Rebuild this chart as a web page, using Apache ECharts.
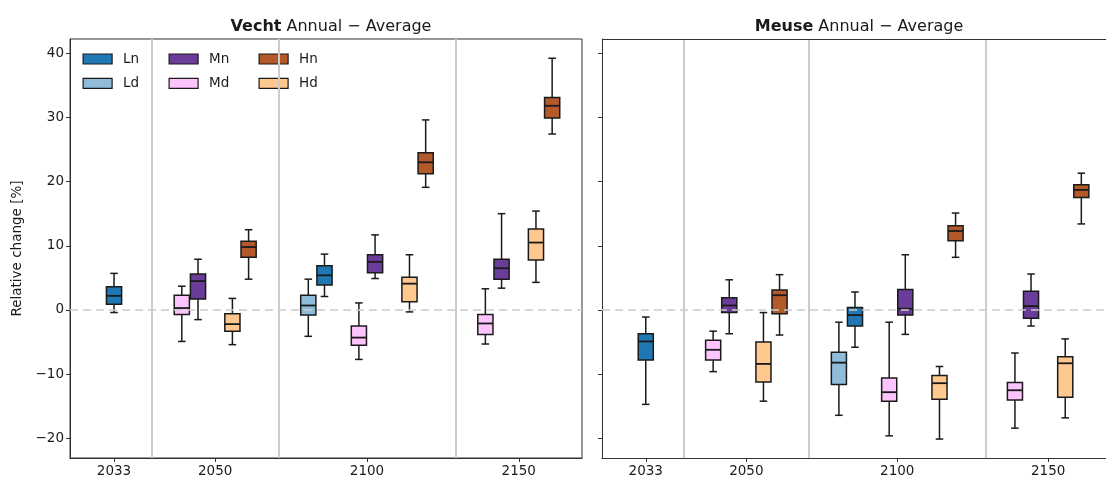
<!DOCTYPE html>
<html>
<head>
<meta charset="utf-8">
<script src="https://cdn.jsdelivr.net/npm/echarts@6/dist/echarts.min.js"></script>
<style>
html, body { margin: 0; padding: 0; background: #fff; }
#chart { width: 1106px; height: 480px; }
</style>
</head>
<body>
<div id="chart"></div>
<script>
var years = ['2033', '2050', '2100', '2150'];
var scenarios = ['Ln', 'Ld', 'Mn', 'Md', 'Hn', 'Hd'];
var yTicks = [-20, -10, 0, 10, 20, 30, 40];

// each entry: [min, q1, median, q3, max] for 2033, 2050, 2100, 2150 (null = no box)
var vechtLn = [[-0.4, 0.9, 2.2, 3.6, 5.7], null, [2.1, 3.9, 5.4, 6.9, 8.7], null];
var vechtLd = [null, null, [-4.1, -0.8, 0.7, 2.3, 4.8], null];
var vechtMn = [null, [-1.5, 1.7, 4.5, 5.6, 7.9], [4.9, 5.8, 7.5, 8.6, 11.7], [3.4, 4.8, 6.5, 7.9, 15.0]];
var vechtMd = [null, [-4.9, -0.7, 0.3, 2.3, 3.7], [-7.7, -5.5, -4.3, -2.5, 1.1], [-5.3, -3.8, -2.1, -0.7, 3.3]];
var vechtHn = [null, [4.8, 8.2, 9.8, 10.7, 12.5], [19.1, 21.2, 23.0, 24.5, 29.6], [27.4, 29.9, 31.8, 33.1, 39.2]];
var vechtHd = [null, [-5.4, -3.3, -2.2, -0.6, 1.8], [-0.3, 1.3, 4.1, 5.1, 8.6], [4.3, 7.8, 10.5, 12.6, 15.4]];

var meuseLn = [[-14.7, -7.8, -4.9, -3.7, -1.1], null, [-5.8, -2.5, -0.8, 0.4, 2.8], null];
var meuseLd = [null, null, [-16.4, -11.6, -8.2, -6.6, -1.9], null];
var meuseMn = [null, [-3.7, -0.4, 0.7, 1.9, 4.7], [-3.8, -0.8, 0.2, 3.2, 8.6], [-2.5, -1.3, 0.6, 2.9, 5.6]];
var meuseMd = [null, [-9.6, -7.8, -6.2, -4.7, -3.3], [-19.6, -14.2, -12.8, -10.6, -1.9], [-18.4, -14.0, -12.5, -11.3, -6.7]];
var meuseHn = [null, [-3.9, -0.6, 2.3, 3.1, 5.5], [8.2, 10.8, 12.3, 13.1, 15.1], [13.4, 17.5, 18.7, 19.5, 21.3]];
var meuseHd = [null, [-14.2, -11.2, -8.4, -5.0, -0.4], [-20.1, -13.9, -11.4, -10.2, -8.8], [-16.8, -13.6, -8.3, -7.3, -4.5]];

var basins = [
  { name: 'Vecht', data: { Ln: vechtLn, Ld: vechtLd, Mn: vechtMn, Md: vechtMd, Hn: vechtHn, Hd: vechtHd } },
  { name: 'Meuse', data: { Ln: meuseLn, Ld: meuseLd, Mn: meuseMn, Md: meuseMd, Hn: meuseHn, Hd: meuseHd } }
];

var colors = { Ln: '#1f78b4', Ld: '#8fbcdb', Mn: '#6a3d9a', Md: '#fcc3fc', Hn: '#b3592a', Hd: '#fec88e' };

// layout on the x axis (not data): tick positions and box offsets
var yearPos = [0, 2, 5, 8];
var groupShift = { L: [-0.16, 0, -1, 0], M: [0, -0.5, 0, -0.5], H: [0, 0.5, 1, 0.5] };
var pairShift = { d: -0.16, n: 0.16 };
var separators = [0.75, 3.25, 6.75];
var boxWidth = 0.3;
var yMin = -23.05, yMax = 42.2;
var ink = '#1a1a1a';
var spine = '#333';
var font = 'DejaVu Sans';

function renderBox(params, api) {
  var x = api.value(0);
  var pMin = api.coord([x, api.value(1)]);
  var pQ1 = api.coord([x, api.value(2)]);
  var pMed = api.coord([x, api.value(3)]);
  var pQ3 = api.coord([x, api.value(4)]);
  var pMax = api.coord([x, api.value(5)]);
  var w = api.size([boxWidth, 0])[0];
  var cx = pMin[0];
  var c = w / 4;
  function ln(x1, y1, x2, y2, lw) {
    return { type: 'line', shape: { x1: x1, y1: y1, x2: x2, y2: y2 }, style: { stroke: ink, lineWidth: lw || 1.5 } };
  }
  return {
    type: 'group',
    children: [
      ln(cx, pMin[1], cx, pQ1[1]),
      ln(cx, pQ3[1], cx, pMax[1]),
      ln(cx - c, pMin[1], cx + c, pMin[1]),
      ln(cx - c, pMax[1], cx + c, pMax[1]),
      { type: 'rect', shape: { x: cx - w / 2, y: pQ3[1], width: w, height: pQ1[1] - pQ3[1] },
        style: { fill: api.visual('color'), stroke: ink, lineWidth: 1.5 } },
      ln(cx - w / 2, pMed[1], cx + w / 2, pMed[1], 1.8)
    ]
  };
}

// right panel runs past the edge of the picture, so no right spine there
var grids = [
  { left: 70, top: 39, width: 512, height: 419, show: true, borderColor: spine, borderWidth: 1, outerBoundsMode: 'none' },
  { left: 602, top: 39, width: 509, height: 419, show: false, outerBoundsMode: 'none' }
];

function minus(v) { return String(v).replace('-', '\u2212'); }

var xAxes = [], yAxes = [], series = [], titles = [];
basins.forEach(function (b, k) {
  xAxes.push({
    type: 'value', gridIndex: k, min: -0.87, max: 9.25,
    splitLine: { show: false },
    axisLine: { onZero: false, lineStyle: { color: spine } },
    axisTick: { customValues: yearPos, length: 4, lineStyle: { color: spine } },
    axisLabel: {
      customValues: yearPos, color: ink, fontFamily: font, fontSize: 13.5, margin: 6,
      formatter: function (v) { return years[yearPos.indexOf(v)]; }
    }
  });
  yAxes.push({
    type: 'value', gridIndex: k, min: yMin, max: yMax,
    splitLine: { show: false },
    axisLine: { show: true, onZero: false, lineStyle: { color: spine } },
    axisTick: { show: true, customValues: yTicks, length: 4, lineStyle: { color: spine } },
    axisLabel: { show: k === 0, customValues: yTicks, color: ink, fontFamily: font, fontSize: 13.5, margin: 6, formatter: minus },
    name: k === 0 ? 'Relative change [%]' : '',
    nameLocation: 'middle', nameGap: 46,
    nameTextStyle: { color: ink, fontFamily: font, fontSize: 13.5 }
  });
  titles.push({
    text: '{b|' + b.name + '} Annual \u2212 Average',
    left: grids[k].left + (k === 0 ? 256 : 252), top: 14, textAlign: 'center',
    textStyle: {
      fontFamily: font, fontSize: 16, fontWeight: 'normal', color: ink,
      rich: { b: { fontFamily: font, fontSize: 16, fontWeight: 'bold', color: ink } }
    }
  });
  // separators and zero line
  var lines = separators.map(function (s) {
    return { xAxis: s, lineStyle: { color: '#cccccc', width: 2, type: 'solid' } };
  });
  lines.push({ yAxis: 0, lineStyle: { color: '#cccccc', width: 1.6, type: [8, 5] } });
  if (k === 1) lines.push({ yAxis: yMax, lineStyle: { color: spine, width: 1, type: 'solid' } });
  series.push({
    type: 'line', xAxisIndex: k, yAxisIndex: k, data: [], z: 1, silent: true,
    markLine: { symbol: 'none', silent: true, label: { show: false }, animation: false, data: lines }
  });
  scenarios.forEach(function (s) {
    var rows = [];
    b.data[s].forEach(function (v, i) {
      if (!v) return;
      var x = yearPos[i] + groupShift[s[0]][i] + pairShift[s[1]];
      rows.push([x, v[0], v[1], v[2], v[3], v[4]]);
    });
    series.push({
      name: s, type: 'custom', xAxisIndex: k, yAxisIndex: k, z: 3,
      itemStyle: { color: colors[s] },
      encode: { x: 0, y: [1, 2, 3, 4, 5] },
      renderItem: renderBox,
      data: rows
    });
  });
});

function legendCol(names, left) {
  return {
    data: names, orient: 'vertical', left: left, top: 52, padding: 0,
    itemWidth: 29, itemHeight: 10, itemGap: 10.4, icon: 'rect',
    itemStyle: { borderColor: ink, borderWidth: 1.2 },
    textStyle: { color: ink, fontFamily: font, fontSize: 13.5, lineHeight: 10, padding: [0, 0, 0, 6] }
  };
}

var chart = echarts.init(document.getElementById('chart'));
chart.setOption({
  animation: false,
  backgroundColor: '#fff',
  title: titles,
  legend: [legendCol(['Ln', 'Ld'], 82.5), legendCol(['Mn', 'Md'], 168.5), legendCol(['Hn', 'Hd'], 258.5)],
  grid: grids,
  xAxis: xAxes,
  yAxis: yAxes,
  series: series
});
</script>
</body>
</html>
